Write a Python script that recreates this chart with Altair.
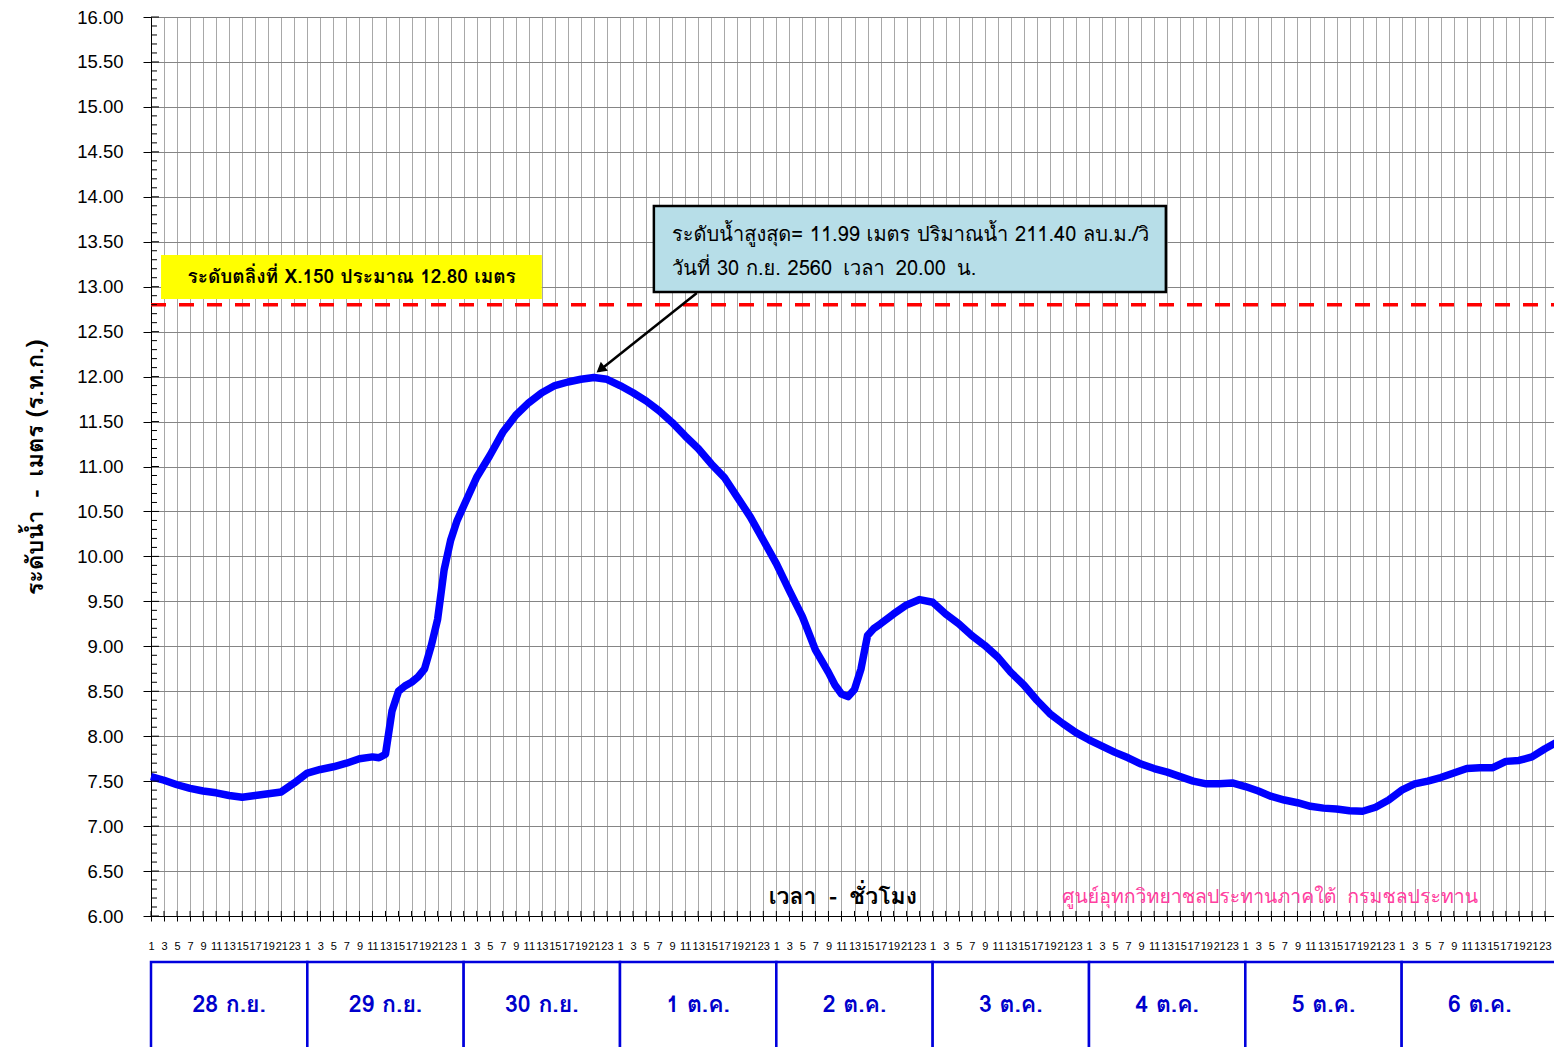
import altair as alt
import pandas as pd

# ---- data ----
hours = [0, 2, 4, 6, 8, 10, 12, 14, 16, 18, 20, 22, 24, 26, 28, 30, 32, 34, 35, 36, 37, 38,
         39, 40, 41, 42, 43, 44, 45, 46, 47, 48, 50, 52, 54, 56, 58, 60, 62, 64, 66, 68,
         70, 72, 74, 76, 78, 80, 82, 84, 86, 88, 90, 92, 94, 96, 98, 100, 102, 104, 105,
         106, 107, 108, 109, 110, 111, 112, 114, 116, 118, 120, 122, 124, 126, 128, 130,
         132, 134, 136, 138, 140, 142, 144, 146, 148, 150, 152, 154, 156, 158, 160, 162,
         164, 166, 168, 170, 172, 174, 176, 178, 180, 182, 184, 186, 188, 190, 192, 194,
         196, 198, 200, 202, 204, 206, 208, 210, 212, 214, 216]
levels = [7.55, 7.51, 7.46, 7.42, 7.39, 7.37, 7.34, 7.32, 7.34, 7.36, 7.38, 7.48, 7.59,
          7.63, 7.66, 7.70, 7.75, 7.77, 7.76, 7.80, 8.28, 8.50, 8.56, 8.60, 8.66, 8.75,
          9.00, 9.30, 9.85, 10.18, 10.40, 10.56, 10.88, 11.12, 11.38, 11.57, 11.71, 11.82,
          11.90, 11.94, 11.97, 11.99, 11.97, 11.90, 11.82, 11.73, 11.62, 11.49, 11.34,
          11.20, 11.03, 10.88, 10.66, 10.44, 10.18, 9.92, 9.62, 9.33, 8.96, 8.71, 8.57,
          8.47, 8.44, 8.52, 8.75, 9.12, 9.20, 9.25, 9.36, 9.46, 9.52, 9.49, 9.36, 9.25,
          9.12, 9.01, 8.88, 8.71, 8.57, 8.40, 8.25, 8.14, 8.04, 7.96, 7.89, 7.82, 7.76,
          7.69, 7.64, 7.60, 7.55, 7.50, 7.47, 7.47, 7.48, 7.44, 7.39, 7.33, 7.29, 7.26,
          7.22, 7.20, 7.19, 7.17, 7.165, 7.21, 7.29, 7.40, 7.47, 7.50, 7.54, 7.59, 7.64,
          7.65, 7.65, 7.72, 7.73, 7.77, 7.86, 7.94]

day_labels = ["28 ก.ย.", "29 ก.ย.", "30 ก.ย.", "1 ต.ค.", "2 ต.ค.", "3 ต.ค.", "4 ต.ค.",
              "5 ต.ค.", "6 ต.ค."]
y_tick_values = [6.0 + 0.5 * i for i in range(21)]
x_tick_values = list(range(0, 216, 2))
bank_level = 12.80

SP2 = "\u00a0\u00a0"
y_title = "ระดับน้ำ" + SP2 + "-" + SP2 + "เมตร (ร.ท.ก.)"
x_title = "เวลา" + SP2 + "-" + SP2 + "ชั่วโมง"
credit = "ศูนย์อุทกวิทยาชลประทานภาคใต้" + SP2 + "กรมชลประทาน"
bank_text = "ระดับตลิ่งที่ X.150 ประมาณ 12.80 เมตร"
peak_lines = ["ระดับน้ำสูงสุด= 11.99 เมตร ปริมาณน้ำ 211.40 ลบ.ม./วิ",
              "วันที่ 30 ก.ย. 2560" + SP2 + "เวลา" + SP2 + "20.00" + SP2 + "น."]

# ---- annotation placement (data units) ----
bank_box = pd.DataFrame({"x": [1.54], "x2": [60.0], "y": [13.353], "y2": [12.863]})
bank_lbl = pd.DataFrame({"x": [30.8], "y": [13.108], "t": [bank_text]})
peak_box = pd.DataFrame({"x": [77.2], "x2": [155.8], "y": [13.898], "y2": [12.941]})
peak_lbl = pd.DataFrame({"x": [80.0, 80.0], "y": [13.577, 13.197], "t": peak_lines})
arrow_line = pd.DataFrame({"x": [83.8], "x2": [68.7], "y": [12.930], "y2": [12.06]})
arrow_head = pd.DataFrame({"x": [69.0], "y": [12.081]})
titles_in = pd.DataFrame({"x": [106.2], "y": [6.211], "t": [x_title]})
credit_df = pd.DataFrame({"x": [171.8], "y": [6.211], "t": [credit]})

FONT = "Tahoma, Waree, Loma, 'Noto Sans Thai Looped', Garuda, 'DejaVu Sans', sans-serif"
NUMFONT = "Liberation Sans, Arial, sans-serif"

xscale = alt.Scale(domain=[0, 216], nice=False, zero=False)
yscale = alt.Scale(domain=[6, 16], nice=False, zero=False)

xaxis = alt.Axis(values=x_tick_values, labelExpr="(datum.value % 24) + 1",
                 labelOverlap=False, labelFontSize=11, labelFont=NUMFONT, labelColor="black",
                 labelPadding=19, tickSize=5, tickColor="black", domainColor="black",
                 grid=True, gridColor="#a8a8a8", gridWidth=1, title=None, labelFlush=False)
yaxis = alt.Axis(values=y_tick_values, format=".2f", labelFontSize=18.5, labelFont=NUMFONT,
                 labelColor="black", labelPadding=20, tickSize=8, tickColor="black",
                 domainColor="black", grid=True, gridColor="#858585", gridWidth=1,
                 title=y_title, titleFont=FONT, titleFontSize=23.5, titleFontWeight="bold",
                 titleColor="black", titleX=-116, titleY=450, titleBaseline="middle",
                 titleAngle=270)


def X(f):
    return alt.X(f, type="quantitative", scale=xscale, axis=xaxis)


def Y(f):
    return alt.Y(f, type="quantitative", scale=yscale, axis=yaxis)


line_df = pd.DataFrame({"hour": hours, "level": levels})
line = alt.Chart(line_df).mark_line(color="#0000ff", strokeWidth=7.5, strokeJoin="round").encode(
    x=X("hour"), y=Y("level"))

bank_rule = alt.Chart(pd.DataFrame({"x": [0], "x2": [216], "y": [bank_level]})).mark_rule(
    color="#ff0000", strokeWidth=3.5, strokeDash=[15, 13]).encode(
    x=X("x"), x2=alt.X2("x2"), y=Y("y"))

bank_rect = alt.Chart(bank_box).mark_rect(color="#ffff00").encode(
    x=X("x"), x2=alt.X2("x2"), y=Y("y"), y2=alt.Y2("y2"))
bank_txt = alt.Chart(bank_lbl).mark_text(font=FONT, fontSize=19, fontWeight="bold",
                                         color="black", align="center",
                                         baseline="middle").encode(
    x=X("x"), y=Y("y"), text="t:N")

peak_rect = alt.Chart(peak_box).mark_rect(fill="#b7dee8", stroke="black",
                                          strokeWidth=2.5).encode(
    x=X("x"), x2=alt.X2("x2"), y=Y("y"), y2=alt.Y2("y2"))
peak_txt = alt.Chart(peak_lbl).mark_text(font=FONT, fontSize=20, color="black",
                                         align="left", baseline="middle").encode(
    x=X("x"), y=Y("y"), text="t:N")

arrow = alt.Chart(arrow_line).mark_rule(color="black", strokeWidth=2.5).encode(
    x=X("x"), x2=alt.X2("x2"), y=Y("y"), y2=alt.Y2("y2"))
head = alt.Chart(arrow_head).mark_point(shape="triangle-up", filled=True, size=130,
                                        angle=231.6, color="black", opacity=1).encode(
    x=X("x"), y=Y("y"))

xtitle = alt.Chart(titles_in).mark_text(font=FONT, fontSize=23, fontWeight="bold",
                                        color="black", align="center",
                                        baseline="middle").encode(
    x=X("x"), y=Y("y"), text="t:N")
credit_txt = alt.Chart(credit_df).mark_text(font=FONT, fontSize=19.5, color="#ff3fa0",
                                            align="center", baseline="middle").encode(
    x=X("x"), y=Y("y"), text="t:N")

# inner parts of axis ticks
minor_vals = [round(6.0 + 0.1 * i, 1) for i in range(101) if i % 5 != 0]
minor_df = pd.DataFrame({"x": [0] * len(minor_vals), "x2": [0.92] * len(minor_vals),
                         "y": minor_vals})
major_df = pd.DataFrame({"x": [0] * len(y_tick_values), "x2": [1.23] * len(y_tick_values),
                         "y": y_tick_values})
xin_df = pd.DataFrame({"x": x_tick_values, "y": [6.0] * len(x_tick_values),
                       "y2": [6.056] * len(x_tick_values)})
minor_t = alt.Chart(minor_df).mark_rule(color="black", strokeWidth=1).encode(
    x=X("x"), x2=alt.X2("x2"), y=Y("y"))
major_t = alt.Chart(major_df).mark_rule(color="black", strokeWidth=1).encode(
    x=X("x"), x2=alt.X2("x2"), y=Y("y"))
xin_t = alt.Chart(xin_df).mark_rule(color="black", strokeWidth=1).encode(
    x=X("x"), y=Y("y"), y2=alt.Y2("y2"))

# day table below the axis
day_df = pd.DataFrame({"d": day_labels,
                       "x": [24 * i for i in range(len(day_labels))],
                       "x2": [24 * (i + 1) for i in range(len(day_labels))],
                       "xc": [24 * i + 12 for i in range(len(day_labels))],
                       "y": [5.488] * len(day_labels), "y2": [4.40] * len(day_labels),
                       "yc": [5.010] * len(day_labels)})
day_rect = alt.Chart(day_df).mark_rect(fill="white", stroke="#0000dd", strokeWidth=2.5).encode(
    x=X("x"), x2=alt.X2("x2"), y=Y("y"), y2=alt.Y2("y2"))
day_txt = alt.Chart(day_df).mark_text(font=FONT, fontSize=23, fontWeight="bold",
                                      color="#0000cc", align="center",
                                      baseline="middle").encode(
    x=X("xc"), y=Y("yc"), text="d:N")

chart = alt.layer(
    bank_rect, peak_rect, bank_rule, line, arrow, head, bank_txt, peak_txt, xtitle,
    credit_txt, minor_t, major_t, xin_t, day_rect, day_txt
).properties(
    width=1407, height=899,
    autosize=alt.AutoSizeParams(type="none"),
    padding={"left": 143, "top": 9, "right": -4, "bottom": 140},
).configure_view(stroke="black", strokeWidth=1)

chart.save("out.html", embed_options={"renderer": "svg", "actions": False})
